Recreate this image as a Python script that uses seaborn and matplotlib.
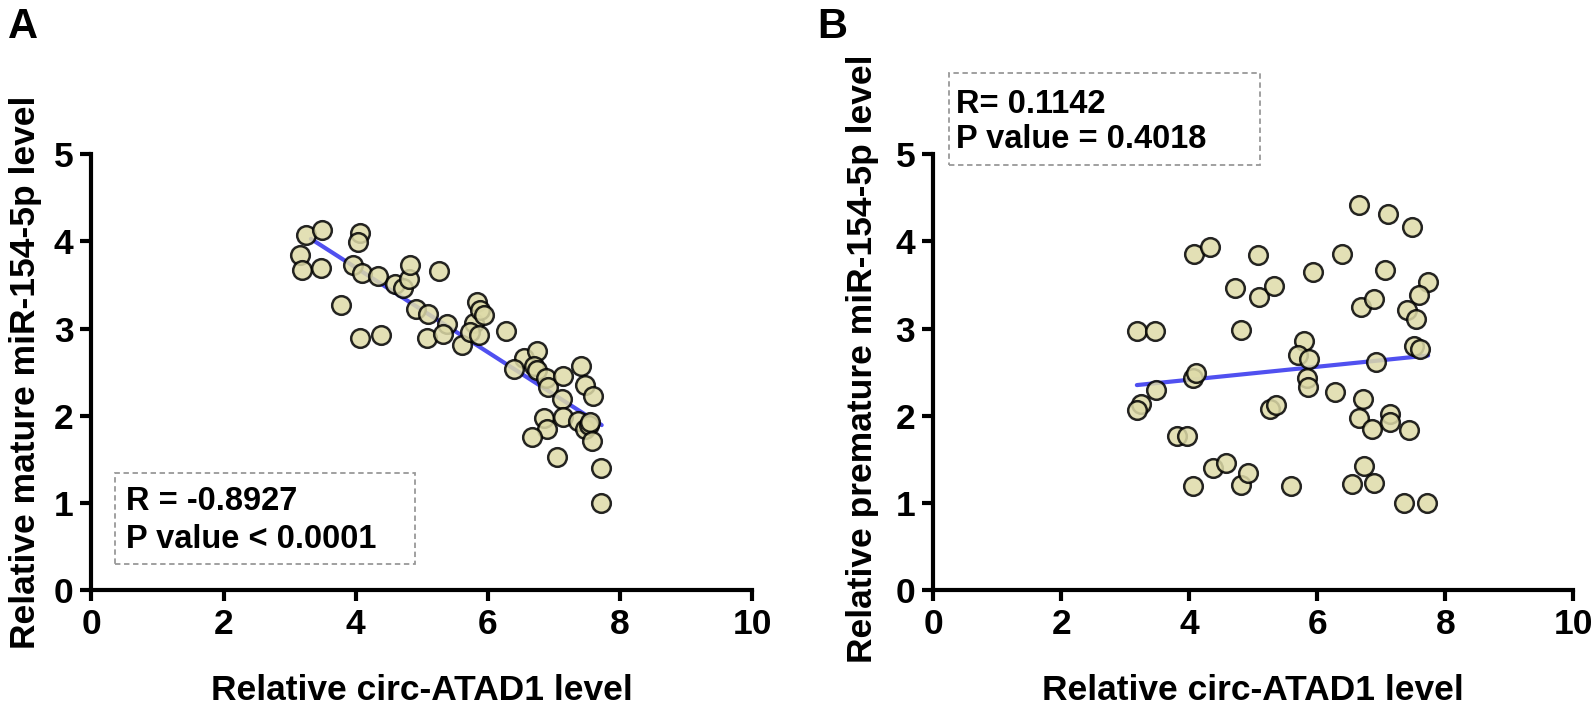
import matplotlib.pyplot as plt
import seaborn as sns
import pandas as pd
from matplotlib.patches import Rectangle

# panel A: circ-ATAD1 vs mature miR-154-5p
circ_a = [3.24, 3.49, 3.16, 3.18, 3.47, 3.78, 4.07, 4.03, 3.95, 4.09, 4.34, 4.07, 4.38,
          4.60, 4.72, 4.80, 4.82, 5.26, 4.91, 5.09, 5.38, 5.07, 5.32, 5.60, 5.79, 5.73,
          5.84, 5.88, 5.94, 5.87, 6.27, 6.54, 6.39, 6.74, 6.70, 6.74, 6.88, 6.91, 7.14,
          7.12, 7.41, 7.47, 7.59, 6.85, 6.89, 7.14, 7.36, 7.47, 7.53, 7.55, 7.58, 6.66,
          7.05, 7.71, 7.71]
mature = [4.07, 4.13, 3.85, 3.67, 3.70, 3.27, 4.10, 3.99, 3.73, 3.64, 3.60, 2.89, 2.93,
          3.51, 3.47, 3.57, 3.73, 3.66, 3.23, 3.17, 3.05, 2.89, 2.94, 2.81, 3.06, 2.96,
          3.30, 3.21, 3.16, 2.93, 2.97, 2.66, 2.54, 2.74, 2.57, 2.52, 2.43, 2.33, 2.45,
          2.19, 2.57, 2.35, 2.22, 1.97, 1.84, 1.98, 1.94, 1.84, 1.89, 1.92, 1.71, 1.75,
          1.52, 1.40, 1.00]
fit_a_x = [3.32, 7.72]
fit_a_y = [4.03, 1.89]

# panel B: circ-ATAD1 vs premature miR-154-5p
circ_b = [3.18, 3.47, 3.25, 3.19, 3.48, 4.07, 4.33, 4.06, 4.10, 3.80, 3.96, 4.05, 4.37,
          4.57, 4.71, 4.81, 4.81, 4.91, 5.07, 5.09, 5.33, 5.26, 5.36, 5.59, 5.93, 5.79,
          5.69, 5.87, 5.84, 5.86, 6.39, 6.27, 6.65, 6.68, 6.88, 6.91, 6.72, 6.65, 6.85,
          6.73, 6.54, 6.89, 7.11, 7.06, 7.14, 7.13, 7.48, 7.73, 7.58, 7.40, 7.54, 7.51,
          7.60, 7.43, 7.36, 7.72]
premature = [2.97, 2.97, 2.13, 2.06, 2.29, 3.86, 3.94, 2.43, 2.49, 1.77, 1.77, 1.19, 1.40,
             1.45, 3.46, 2.98, 1.20, 1.34, 3.84, 3.36, 3.49, 2.07, 2.12, 1.19, 3.65, 2.86,
             2.69, 2.65, 2.43, 2.33, 3.86, 2.27, 4.42, 3.25, 3.34, 2.62, 2.19, 1.97, 1.85,
             1.42, 1.21, 1.23, 4.32, 3.67, 2.02, 1.93, 4.17, 3.54, 3.38, 3.21, 3.11, 2.80,
             2.76, 1.83, 1.00, 1.00]
fit_b_x = [3.18, 7.73]
fit_b_y = [2.35, 2.69]

x_ticks = [0, 2, 4, 6, 8, 10]
y_ticks = [0, 1, 2, 3, 4, 5]

sns.set_theme(style="ticks")
plt.rcParams["font.family"] = ["Liberation Sans", "DejaVu Sans"]
plt.rcParams["font.weight"] = "bold"
for key in ["text.color", "axes.labelcolor", "xtick.color", "ytick.color"]:
    plt.rcParams[key] = "black"

fig = plt.figure(figsize=(15.94, 7.06), dpi=100)
ax_a = fig.add_axes([0.0574, 0.1649, 0.4146, 0.6163])
ax_b = fig.add_axes([0.5855, 0.1649, 0.4016, 0.6163])

point_color = "#dedba8"
line_color = "#5050f0"

panels = [
    (ax_a, circ_a, mature, fit_a_x, fit_a_y, "Relative mature miR-154-5p level",
     ["R = -0.8927", "P value < 0.0001"], (0.36, 0.29, 4.54, 1.05), (1.01, 0.58),
     0.52, -0.100, 0.50),
    (ax_b, circ_b, premature, fit_b_x, fit_b_y, "Relative premature miR-154-5p level",
     ["R= 0.1142", "P value = 0.4018"], (0.24, 4.88, 4.86, 1.06), (5.58, 5.17),
     0.36, -0.111, 0.53),
]

for ax, xs, ys, fx, fy, ylabel, stats, box, text_y, text_x, ylab_x, ylab_y in panels:
    df = pd.DataFrame({"x": xs, "y": ys})
    sns.lineplot(x=fx, y=fy, color=line_color, linewidth=3, ax=ax, zorder=2)
    sns.scatterplot(data=df, x="x", y="y", s=180, color=point_color, edgecolor="black",
                    linewidth=1.8, alpha=0.85, ax=ax, zorder=3)
    ax.set_xlim(0, 10)
    ax.set_ylim(0, 5)
    ax.set_xticks(x_ticks)
    ax.set_yticks(y_ticks)
    ax.tick_params(width=3, length=8, labelsize=25.5, pad=5, color="black")
    for lbl in ax.get_xticklabels() + ax.get_yticklabels():
        lbl.set_fontweight("bold")
    for side in ["left", "bottom"]:
        ax.spines[side].set_linewidth(3)
        ax.spines[side].set_color("black")
    sns.despine(ax=ax)
    ax.set_xlabel("Relative circ-ATAD1 level", fontsize=25.5, fontweight="bold")
    ax.set_ylabel(ylabel, fontsize=25.5, fontweight="bold")
    ax.xaxis.set_label_coords(0.5, -0.233)
    ax.xaxis.label.set_va("center")
    ax.yaxis.set_label_coords(ylab_x, ylab_y)
    ax.yaxis.label.set_va("center")

    bx, by, bw, bh = box
    ax.add_patch(Rectangle((bx, by), bw, bh, fill=False, edgecolor="#999999",
                           linestyle=(0, (3, 2)), linewidth=1.3, clip_on=False))
    for line_txt, ty in zip(stats, text_y):
        ax.text(text_x, ty, line_txt, fontsize=23.5, fontweight="bold",
                va="center", ha="left", clip_on=False)

fig.text(0.005, 0.99, "A", fontsize=30, fontweight="bold", va="top", ha="left")
fig.text(0.5125, 0.99, "B", fontsize=30, fontweight="bold", va="top", ha="left")

fig.savefig("out.png", dpi=100)
